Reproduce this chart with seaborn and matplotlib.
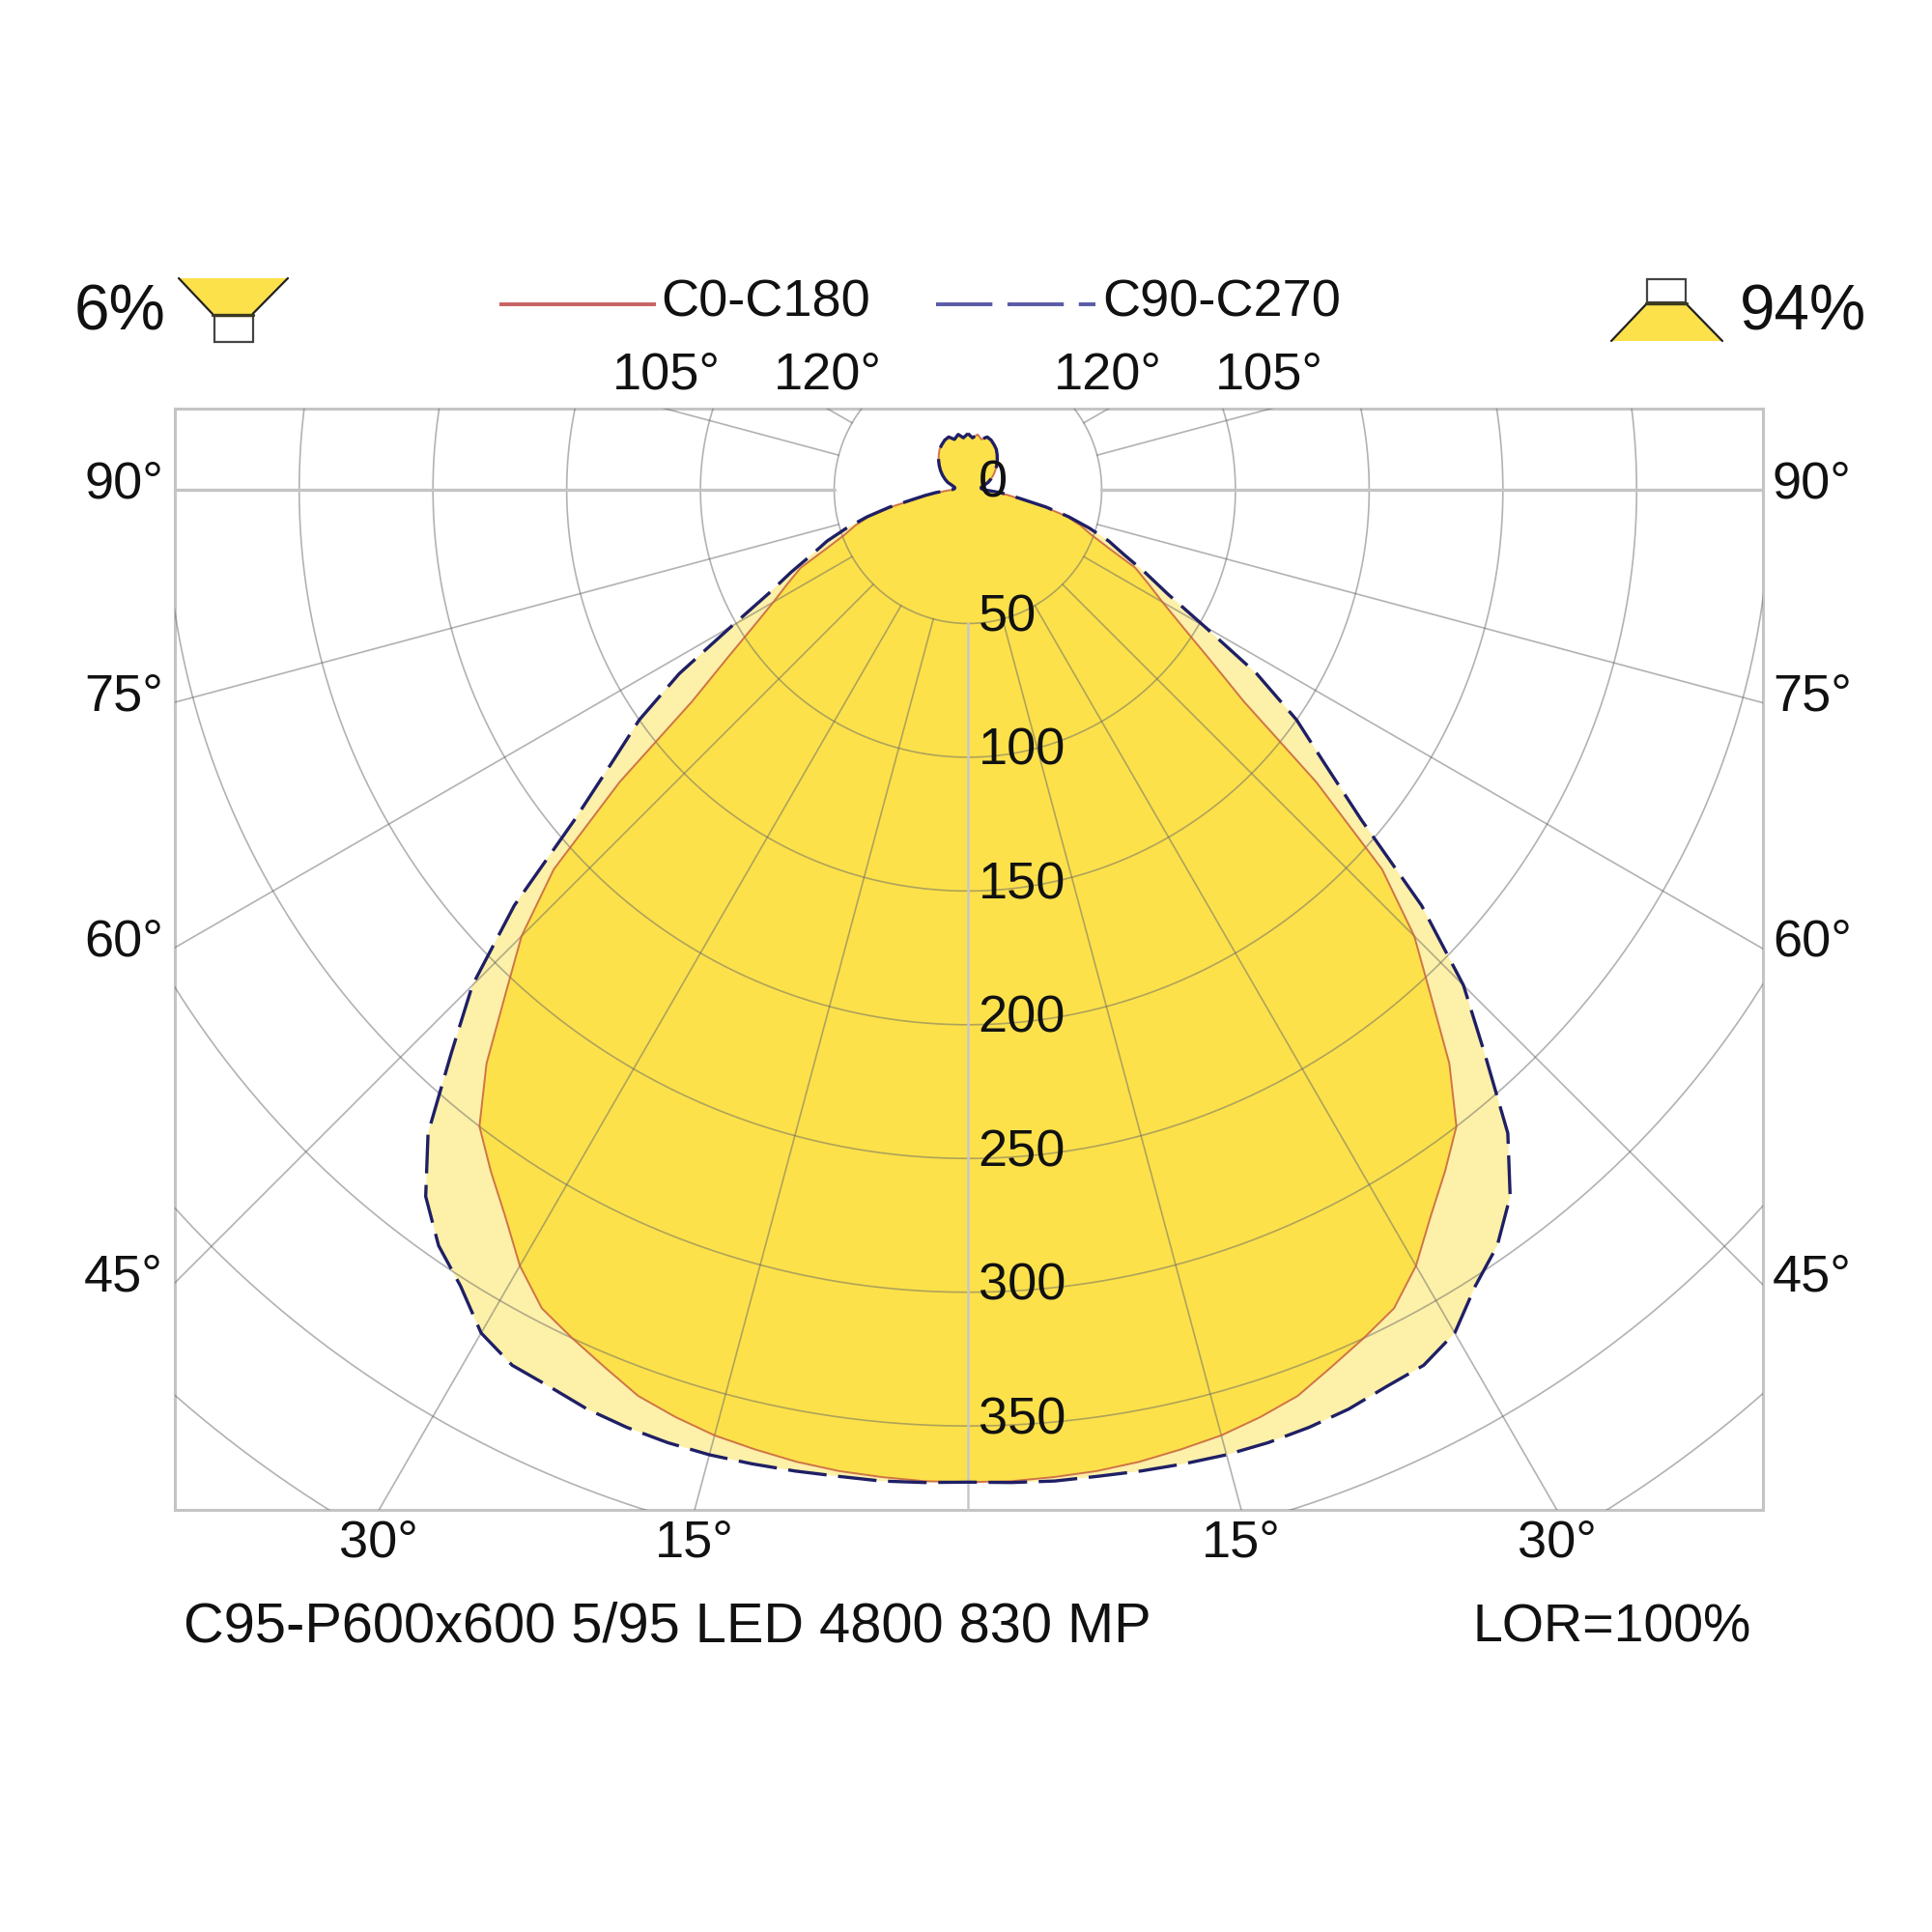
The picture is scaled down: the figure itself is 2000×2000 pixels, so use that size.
import numpy as np
import pandas as pd
import matplotlib
matplotlib.use("Agg")
import matplotlib.pyplot as plt
from matplotlib.patches import Polygon, Rectangle
import seaborn as sns

# ---------------- data (luminous intensity, cd/klm) ----------------
angles_deg = [0, 2.5, 5, 7.5, 10, 12.5, 15, 17.5, 20, 22.5, 25, 27.5, 30, 32.5, 35,
              37.5, 40, 42.5, 45, 47.5, 50, 52.5, 55, 57.5, 60, 62.5, 65, 67.5, 70,
              72.5, 75, 77.5, 80, 82.5, 85, 87.5, 90, 95, 100, 105, 110, 115, 120,
              125, 130, 135, 140, 145, 150, 155, 160, 165, 170, 175, 180]
c0_c180_cd = [371, 371, 370.5, 370, 369, 367.5, 366, 363.5, 360.5, 355, 350, 345, 335, 322, 311,
              300, 280, 256, 236, 210, 170, 130, 110, 95, 84, 76, 69, 57, 49,
              44, 38, 29, 20, 15, 11, 8, 6, 5, 5, 6, 8, 9.5, 11,
              12.5, 14, 15.5, 17, 18.5, 19.5, 20.5, 21, 19.5, 21, 19.5, 21]
c90_c270_cd = [371, 371.5, 372, 372, 372.5, 373, 373.5, 373.5, 373, 372, 370, 369, 364, 353, 345,
               333, 314, 286, 262, 230, 192, 168, 150, 128, 102, 84, 73, 63, 56,
               47.5, 39, 30, 21, 16, 12, 8, 6, 5, 5, 6, 8, 9.5, 11,
               12.5, 14, 15.5, 17, 18.5, 19.5, 20.5, 21, 19.5, 21, 19.5, 21]

circle_labels = [0, 50, 100, 150, 200, 250, 300, 350]
grid_circles = [50, 100, 150, 200, 250, 300, 350, 400, 450]
grid_angles = [15, 30, 45, 60, 75, 105, 120]
bottom_angle_labels = [15, 30]
side_angle_labels = [45, 60, 75, 90]
top_angle_labels = [105, 120]
legend_labels = ["C0-C180", "C90-C270"]
upward_share = "6%"
downward_share = "94%"
luminaire_name = "C95-P600x600 5/95 LED 4800 830 MP"
lor_text = "LOR=100%"

# ---------------- style ----------------
sns.set_theme(style="white")
plt.rcParams["font.family"] = ["Liberation Sans", "DejaVu Sans"]

STRONG = "#FCE14B"
PALE = "#FDF0A8"
RED = "#c8603e"
BLUE = "#1f1f66"
GRID = "#666666"
FRAME = "#c4c4c4"
FS = 19.5

# pixel layout helpers (figure 2000x2000 px)
PXCD = 2.769          # pixels per cd
CX, CY = 1002, 507    # pole of the diagram in pixels


def X(px):
    return (px - CX) / PXCD


def Y(py):
    return (CY - py) / PXCD


def profile(vals):
    a = np.array(angles_deg, float)
    v = np.array(vals, float)
    th = np.deg2rad(np.concatenate([-a[::-1], a[1:]]))
    r = np.concatenate([v[::-1], v[1:]])
    return r * np.sin(th), -r * np.cos(th)


fig = plt.figure(figsize=(10, 10), dpi=200, facecolor="white")
ax = fig.add_axes([181 / 2000, 1 - 1563.3 / 2000, 1644 / 2000, 1140 / 2000])
ax.set_facecolor("white")

x90, y90 = profile(c90_c270_cd)
x0, y0 = profile(c0_c180_cd)

# fills
ax.fill(x90, y90, color=PALE, lw=0, zorder=1)
ax.fill(x0, y0, color=STRONG, lw=0, zorder=2)

# grid circles
tt = np.linspace(0, 2 * np.pi, 1441)
for r in grid_circles:
    ax.plot(r * np.sin(tt), r * np.cos(tt), color=GRID, lw=0.6, alpha=0.5,
            zorder=3, solid_capstyle="butt")
# radial lines
for a in grid_angles:
    for s in (-1, 1):
        t = np.deg2rad(s * a)
        ax.plot([50 * np.sin(t), 800 * np.sin(t)], [-50 * np.cos(t), -800 * np.cos(t)],
                color=GRID, lw=0.6, alpha=0.5, zorder=3)
# main axes lines (0 and 90 deg)
ax.plot([50, 800], [0, 0], color=FRAME, lw=1.2, zorder=3.5)
ax.plot([-50, -800], [0, 0], color=FRAME, lw=1.2, zorder=3.5)
ax.plot([0, 0], [-50, -800], color="#c8c8c8", lw=0.9, zorder=3.5)

# curves
sns.lineplot(data=pd.DataFrame({"x": x0, "y": y0}), x="x", y="y", sort=False,
             estimator=None, color=RED, lw=0.7, alpha=0.85, ax=ax, zorder=4)
sns.lineplot(data=pd.DataFrame({"x": x90, "y": y90}), x="x", y="y", sort=False,
             estimator=None, color=BLUE, lw=1.2, linestyle=(0, (12, 3.6)), ax=ax, zorder=4.5)

xl = (X(181), X(1825))
yl = (Y(1563.3), Y(423.3))
ax.set_xlim(*xl)
ax.set_ylim(*yl)
ax.set_xticks([])
ax.set_yticks([])
ax.set_xlabel("")
ax.set_ylabel("")
for sp in ax.spines.values():
    sp.set_color(FRAME)
    sp.set_linewidth(1.1)
    sp.set_visible(True)

# circle value labels
for r in circle_labels:
    ax.text(3.8, -r + 2.2, f"{r}", ha="left", va="center", fontsize=FS,
            color="#111111", zorder=6)

# bottom angle labels
for a in bottom_angle_labels:
    xx = -yl[0] * np.tan(np.deg2rad(a))
    for s in (-1, 1):
        ax.text(s * xx, yl[0] - 12.3, f"{a}°", ha="center", va="center",
                fontsize=FS, color="#111111", clip_on=False)
# side angle labels
for a in side_angle_labels:
    yy = 0.0 if a == 90 else xl[0] / np.tan(np.deg2rad(a))
    ax.text(xl[0] - 4.3, yy + 2.0, f"{a}°", ha="right", va="center",
            fontsize=FS, color="#111111", clip_on=False)
    ax.text(xl[1] + 3.6, yy + 2.0, f"{a}°", ha="left", va="center",
            fontsize=FS, color="#111111", clip_on=False)
# top angle labels
for a in top_angle_labels:
    t = np.deg2rad(a)
    rr = yl[1] / (-np.cos(t))
    xx = rr * np.sin(t)
    for s in (-1, 1):
        ax.text(s * xx, 42.8, f"{a}°", ha="center", va="center",
                fontsize=FS, color="#111111", clip_on=False)

# legend
ax.plot([X(517), X(679)], [Y(315), Y(315)], color="#c86262", lw=1.4,
        clip_on=False, solid_capstyle="butt")
ax.text(X(684), Y(314), legend_labels[0], ha="left", va="center", fontsize=FS,
        color="#111111", clip_on=False)
ax.plot([X(969), X(1134)], [Y(315), Y(315)], color="#5a5aa6", lw=1.4,
        linestyle=(0, (15, 4)), clip_on=False)
ax.text(X(1141), Y(314), legend_labels[1], ha="left", va="center", fontsize=FS,
        color="#111111", clip_on=False)

# percentage labels
fig.text(124 / 2000, 1 - 324 / 2000, upward_share, ha="center", va="center",
         fontsize=23.6, color="#111111")
fig.text(1866 / 2000, 1 - 324 / 2000, downward_share, ha="center", va="center",
         fontsize=23.6, color="#111111")

# bottom texts
fig.text(190 / 2000, 1 - 1685 / 2000, luminaire_name, ha="left", va="center",
         fontsize=20.8, color="#111111")
fig.text(1813 / 2000, 1 - 1685 / 2000, lor_text, ha="right", va="center",
         fontsize=20, color="#111111")


# luminaire icons (figure pixel coordinates)
def fpts(pts):
    return [(px / 2000, 1 - py / 2000) for px, py in pts]


def fline(p1, p2, lw=0.8, color="#222222"):
    (a, b), (c, d) = fpts([p1, p2])
    fig.add_artist(plt.Line2D([a, c], [b, d], transform=fig.transFigure,
                              color=color, lw=lw))


# upward icon (left)
fig.add_artist(Polygon(fpts([(185, 288), (298, 288), (261.5, 325), (220, 325)]),
                       closed=True, transform=fig.transFigure, facecolor=STRONG,
                       edgecolor="none"))
fline((185, 288), (220, 325))
fline((298, 288), (261.5, 325))
fig.add_artist(Rectangle((222 / 2000, 1 - 354 / 2000), 39.5 / 2000, 27 / 2000,
                         transform=fig.transFigure, facecolor="white",
                         edgecolor="#444444", lw=0.8))
fline((220, 326), (262, 326), lw=1.2, color="#3a3a20")

# downward icon (right)
fig.add_artist(Rectangle((1705 / 2000, 1 - 313 / 2000), 40 / 2000, 24 / 2000,
                         transform=fig.transFigure, facecolor="white",
                         edgecolor="#444444", lw=0.8))
fig.add_artist(Polygon(fpts([(1705, 314), (1745, 314), (1783, 353), (1668, 353)]),
                       closed=True, transform=fig.transFigure, facecolor=STRONG,
                       edgecolor="none"))
fline((1705, 314), (1668, 353))
fline((1745, 314), (1783, 353))
fline((1704, 314), (1746, 314), lw=1.2, color="#3a3a20")

fig.savefig("out.png", dpi=200, facecolor="white")
